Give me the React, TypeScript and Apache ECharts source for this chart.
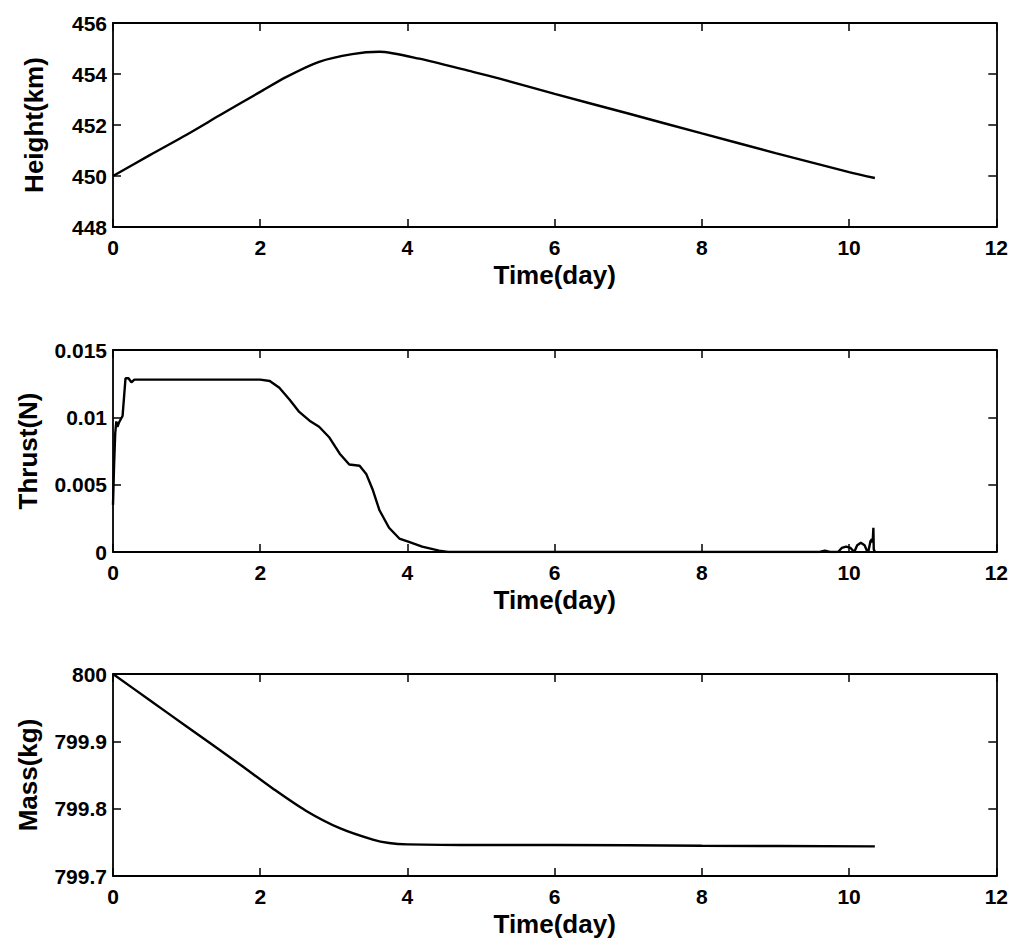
import React, { useEffect, useRef } from "react";
import * as echarts from "echarts";

// Shared time axis (days)
const TIME_TICKS = [0, 2, 4, 6, 8, 10, 12];

// Orbit height (km)
const HEIGHT_TICKS = [448, 450, 452, 454, 456];
const HEIGHT_T = [0, 0.5, 1, 1.45, 2, 2.35, 2.8, 3.25, 3.62, 4.16, 4.84, 5.24, 6, 7, 8, 9, 10, 10.35];
const HEIGHT_KM = [450.0, 450.82, 451.62, 452.38, 453.3, 453.88, 454.48, 454.78, 454.87, 454.6, 454.12, 453.83, 453.22, 452.45, 451.67, 450.9, 450.15, 449.92];

// Thrust (N)
const THRUST_TICKS = [0, 0.005, 0.01, 0.015];
const THRUST_T = [
  0, 0.015, 0.03, 0.045, 0.06, 0.08, 0.1, 0.13, 0.15, 0.17, 0.21, 0.25, 0.29, 0.35,
  2.0, 2.13, 2.26, 2.4, 2.53, 2.67, 2.8, 2.94, 3.08, 3.21, 3.35, 3.44, 3.53, 3.62,
  3.75, 3.89, 4.02, 4.2, 4.43, 4.55,
  9.6, 9.67, 9.74, 9.85, 9.9, 9.96, 10.02, 10.07, 10.11, 10.16, 10.21, 10.25,
  10.26, 10.29, 10.31, 10.32, 10.33, 10.335, 10.35,
];
const THRUST_N = [
  0.0035, 0.0065, 0.0088, 0.0097, 0.0093, 0.0096, 0.0098, 0.0101, 0.0115, 0.0129, 0.0129, 0.0126, 0.0128, 0.0128,
  0.0128, 0.0127, 0.0122, 0.0113, 0.0104, 0.00975, 0.0093, 0.0085, 0.0073, 0.0065, 0.0064, 0.0058, 0.0046, 0.0031,
  0.0018, 0.001, 0.00076, 0.0004, 0.0001, 0,
  0, 0.0001, 0, 0, 0.0003, 0.0004, 0.0003, 0, 0.0005, 0.00068, 0.0005, 0,
  0, 0.0008, 0.00095, 0.0007, 0.0018, 0.0002, 0,
];

// Spacecraft mass (kg)
const MASS_TICKS = [799.7, 799.8, 799.9, 800];
const MASS_T = [0, 0.5, 1, 1.72, 2.17, 2.62, 3.08, 3.53, 3.75, 4.0, 5.0, 6.0, 8.0, 10.35];
const MASS_KG = [800, 799.961, 799.922, 799.866, 799.83, 799.797, 799.771, 799.754, 799.749, 799.747, 799.746, 799.746, 799.745, 799.744];

const FONT = "'Liberation Sans', Arial, sans-serif";
const BLACK = "#000";

const pairs = (xs: number[], ys: number[]) => xs.map((x, i) => [x, ys[i]]);

const grids = [
  { left: 113, right: 12, top: 23, height: 204 },
  { left: 113, right: 12, top: 350, height: 202 },
  { left: 113, right: 12, top: 674, height: 202 },
];

const tickStyle = {
  show: true,
  inside: true,
  length: 8,
  lineStyle: { color: BLACK, width: 1.5 },
};
const lineStyle = { lineStyle: { color: BLACK, width: 1.8 } };

function xAxes(gridIndex: number) {
  const base = {
    type: "value" as const,
    gridIndex,
    min: TIME_TICKS[0],
    max: TIME_TICKS[TIME_TICKS.length - 1],
    interval: TIME_TICKS[1] - TIME_TICKS[0],
    splitLine: { show: false },
    axisTick: tickStyle,
    axisLine: { show: true, onZero: false, ...lineStyle },
  };
  return [
    {
      ...base,
      position: "bottom",
      axisLabel: {
        margin: 10,
        color: BLACK,
        fontFamily: FONT,
        fontWeight: "bold",
        fontSize: 21,
      },
      name: "Time(day)",
      nameLocation: "middle",
      nameGap: 35,
      nameTextStyle: { color: BLACK, fontFamily: FONT, fontWeight: "bold", fontSize: 26 },
    },
    { ...base, position: "top", axisLabel: { show: false } },
  ];
}

function yAxes(gridIndex: number, ticks: number[], name: string, nameGap: number, decimals: number) {
  const base = {
    type: "value" as const,
    gridIndex,
    min: ticks[0],
    max: ticks[ticks.length - 1],
    interval: +(ticks[1] - ticks[0]).toFixed(decimals),
    splitLine: { show: false },
    axisTick: tickStyle,
    axisLine: { show: true, onZero: false, ...lineStyle },
  };
  return [
    {
      ...base,
      position: "left",
      axisLabel: {
        margin: 6,
        color: BLACK,
        fontFamily: FONT,
        fontWeight: "bold",
        fontSize: 21,
        formatter: (v: number) => String(+v.toFixed(decimals)),
      },
      name,
      nameLocation: "middle",
      nameGap,
      nameTextStyle: { color: BLACK, fontFamily: FONT, fontWeight: "bold", fontSize: 26 },
    },
    { ...base, position: "right", axisLabel: { show: false } },
  ];
}

function series(index: number, data: number[][], smooth: number | false) {
  return {
    type: "line",
    xAxisIndex: index * 2,
    yAxisIndex: index * 2,
    data,
    showSymbol: false,
    symbol: "none",
    smooth,
    lineStyle: { color: BLACK, width: 2.4 },
    emphasis: { disabled: true },
  };
}

export default function App() {
  const ref = useRef<HTMLDivElement>(null);

  useEffect(() => {
    if (!ref.current) return;
    const chart = echarts.init(ref.current, undefined, { renderer: "svg" });
    chart.setOption({
      animation: false,
      backgroundColor: "#fff",
      grid: grids,
      xAxis: [...xAxes(0), ...xAxes(1), ...xAxes(2)],
      yAxis: [
        ...yAxes(0, HEIGHT_TICKS, "Height(km)", 66, 0),
        ...yAxes(1, THRUST_TICKS, "Thrust(N)", 72, 3),
        ...yAxes(2, MASS_TICKS, "Mass(kg)", 72, 1),
      ],
      series: [
        series(0, pairs(HEIGHT_T, HEIGHT_KM), 0.25),
        series(1, pairs(THRUST_T, THRUST_N), false),
        series(2, pairs(MASS_T, MASS_KG), 0.3),
      ],
    });
    return () => chart.dispose();
  }, []);

  return (
    <div
      ref={ref}
      style={{ position: "fixed", left: 0, top: 0, width: 1011, height: 947, background: "#fff" }}
    />
  );
}
